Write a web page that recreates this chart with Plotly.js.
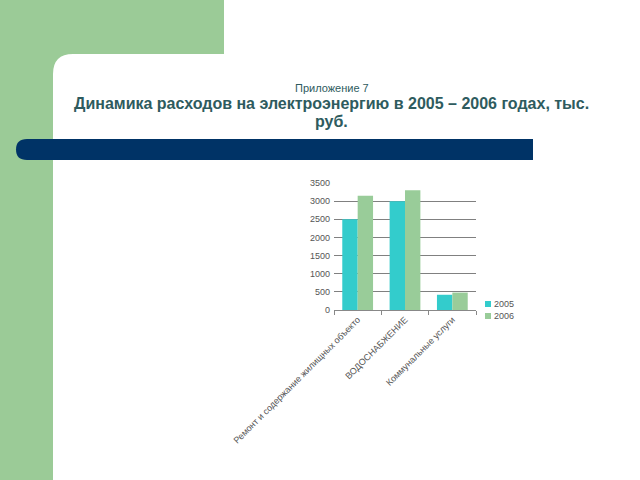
<!DOCTYPE html>
<html>
<head>
<meta charset="utf-8">
<script src="https://cdn.plot.ly/plotly-3.0.1.min.js"></script>
<style>html,body{margin:0;padding:0;background:#fff;}#chart{width:640px;height:480px;}</style>
</head>
<body>
<div id="chart"></div>
<script>
var categories = ["Ремонт и содержание жилищных объекто", "ВОДОСНАБЖЕНИЕ", "Коммунальные услуги"];
var series2005 = [2500, 3000, 420];
var series2006 = [3150, 3300, 480];
var seriesNames = ["2005", "2006"];
var seriesColors = ['#33CCCC', '#99CC99'];
var yTicks = [0, 500, 1000, 1500, 2000, 2500, 3000, 3500];

// plot area in pixels
var L = 334, R = 476, T = 183, B = 310;
function px(x){ return (x - L) / (R - L); }
function py(y){ return (B - y) / (B - T); }

var traces = [
  {type: 'bar', name: seriesNames[0], x: categories, y: series2005, marker: {color: seriesColors[0]}},
  {type: 'bar', name: seriesNames[1], x: categories, y: series2006, marker: {color: seriesColors[1]}}
];

var greenPath = 'M' + px(0) + ',' + py(0) + ' L' + px(224) + ',' + py(0) + ' L' + px(224) + ',' + py(54) +
  ' L' + px(73) + ',' + py(54) + ' Q' + px(53) + ',' + py(54) + ' ' + px(53) + ',' + py(74) +
  ' L' + px(53) + ',' + py(480) + ' L' + px(0) + ',' + py(480) + ' Z';
var bluePath = 'M' + px(27) + ',' + py(139) + ' L' + px(533) + ',' + py(139) + ' L' + px(533) + ',' + py(160) +
  ' L' + px(27) + ',' + py(160) + ' Q' + px(16) + ',' + py(160) + ' ' + px(16) + ',' + py(149.5) +
  ' Q' + px(16) + ',' + py(139) + ' ' + px(27) + ',' + py(139) + ' Z';

var shapes = [
  {type: 'path', xref: 'paper', yref: 'paper', path: greenPath, fillcolor: '#9BCB97', line: {width: 0}, layer: 'below'},
  {type: 'path', xref: 'paper', yref: 'paper', path: bluePath, fillcolor: '#003366', line: {width: 0}, layer: 'below'}
];
var annotations = [
  {xref: 'paper', yref: 'paper', x: px(332), y: py(88), text: 'Приложение 7', showarrow: false,
   font: {size: 11, color: '#2E5B5E'}, xanchor: 'center', yanchor: 'middle'},
  {xref: 'paper', yref: 'paper', x: px(331), y: py(103), text: '<b>Динамика расходов на электроэнергию в 2005 – 2006 годах, тыс.</b>', showarrow: false,
   font: {size: 16, color: '#2E5B5E'}, xanchor: 'center', yanchor: 'middle'},
  {xref: 'paper', yref: 'paper', x: px(331), y: py(121), text: '<b>руб.</b>', showarrow: false,
   font: {size: 16, color: '#2E5B5E'}, xanchor: 'center', yanchor: 'middle'}
];
// manual compact legend
seriesNames.forEach(function(name, i){
  var cy = 304 + i * 12;
  shapes.push({type: 'rect', xref: 'paper', yref: 'paper', x0: px(485), x1: px(491), y0: py(cy - 3), y1: py(cy + 3),
               fillcolor: seriesColors[i], line: {width: 0}});
  annotations.push({xref: 'paper', yref: 'paper', x: px(492), y: py(cy), text: name, showarrow: false,
                    font: {size: 9, color: '#555'}, xanchor: 'left', yanchor: 'middle'});
});

var layout = {
  width: 640, height: 480,
  margin: {l: L, r: 640 - R, t: T, b: 480 - B, autoexpand: false},
  paper_bgcolor: '#ffffff', plot_bgcolor: 'rgba(0,0,0,0)',
  font: {family: 'Liberation Sans, Arial, sans-serif', color: '#555'},
  barmode: 'group', bargap: 0.35, bargroupgap: 0,
  showlegend: false,
  xaxis: {type: 'category', showgrid: false, showline: true, linecolor: '#888', linewidth: 1,
          ticks: 'outside', tickson: 'boundaries', ticklen: 4, tickcolor: '#888',
          tickangle: -45, tickfont: {size: 9, color: '#555'}, automargin: false, zeroline: false},
  yaxis: {range: [0, 3500], tickvals: yTicks, showgrid: true, gridcolor: '#808080', gridwidth: 1,
          showline: false, zeroline: false, ticks: '', ticklabelstandoff: 3,
          tickfont: {size: 9, color: '#555'}, automargin: false},
  shapes: shapes,
  annotations: annotations
};

Plotly.newPlot('chart', traces, layout, {displayModeBar: false, staticPlot: true});
</script>
</body>
</html>
